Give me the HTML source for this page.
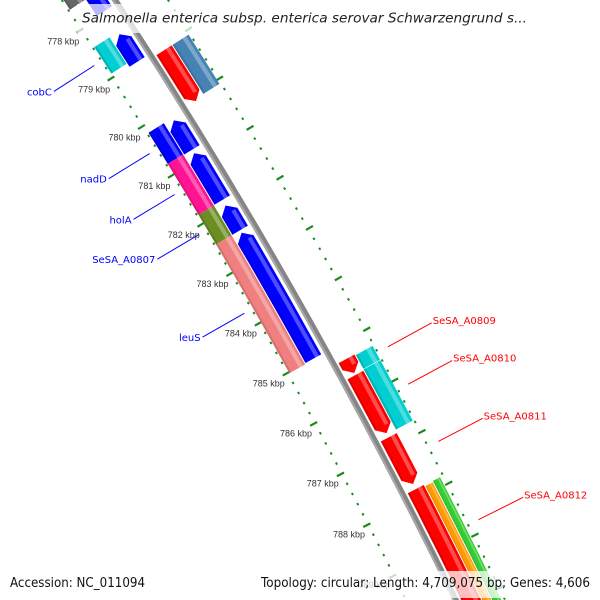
<!DOCTYPE html>
<html><head><meta charset="utf-8"><style>
html,body{margin:0;padding:0;background:#fff;width:600px;height:600px;overflow:hidden;}
svg{display:block;overflow:hidden;}
</style></head><body>
<svg id="map" width="600" height="600" viewBox="0 0 600 600" xmlns="http://www.w3.org/2000/svg">
<rect x="0" y="0" width="600" height="600" fill="#fff"/>
<g id="ticks"></g>
<g id="tickLabels"></g>
<g id="backbone"></g>
<g id="features"></g>
<g id="labels"></g>
<rect x="77" y="4" width="460" height="29" fill="#fff" fill-opacity="0.72"/>
<text x="82" y="22.5" font-family="DejaVu Sans, Liberation Sans, sans-serif" font-style="italic" font-size="13" fill="#222" textLength="445" lengthAdjust="spacingAndGlyphs">Salmonella enterica subsp. enterica serovar Schwarzengrund s...</text>
<rect x="4" y="571" width="148" height="27" fill="#fff" fill-opacity="0.75"/>
<rect x="255" y="571" width="341" height="27" fill="#fff" fill-opacity="0.75"/>
<text x="10" y="587" font-family="DejaVu Sans, Liberation Sans, sans-serif" font-size="13" fill="#111" textLength="135" lengthAdjust="spacingAndGlyphs">Accession: NC_011094</text>
<text x="261" y="587" font-family="DejaVu Sans, Liberation Sans, sans-serif" font-size="13" fill="#111" textLength="329" lengthAdjust="spacingAndGlyphs">Topology: circular; Length: 4,709,075 bp; Genes: 4,606</text>
</svg>
<script>
// ---- data ----
const featNames  = ['gene-a1','gene-a2','gene-a3','gene-a4','gene-a5','gene-a6','gene-b0','cobC','nadD','holA','SeSA_A0807','leuS','gene-c1','gene-c2','gene-c3','gene-c4','gene-c5','gene-d1','SeSA_A0809','SeSA_A0810','SeSA_A0812','gene-d5'];
const featStart  = [776.0, 778.43, 780.20, 780.87, 781.93, 782.48, 776.0, 778.38, 780.15, 780.79, 781.83, 782.43, 779.08, 785.28, 785.60, 786.82, 787.83, 779.08, 785.30, 785.58, 787.86, 787.84];
const featEnd    = [777.95, 779.00, 780.80, 781.82, 782.43, 785.00, 777.60, 778.93, 780.79, 781.83, 782.43, 785.02, 780.12, 785.56, 786.74, 787.73, 791.0, 780.08, 785.57, 786.76, 791.0, 791.0];
const featTrack  = ['A','A','A','A','A','A','B','B','B','B','B','B','C','C','C','C','C','D','D','D','D1','D2'];
const featStrand = [-1,-1,-1,-1,-1,-1,0,0,0,0,0,0,1,1,1,1,1,0,0,0,0,0];
const featColor  = ['#0000ff','#0000ff','#0000ff','#0000ff','#0000ff','#0000ff','#666666','#00ced1','#0000ff','#ff1493','#6b8e23','#f08080','#ff0000','#ff0000','#ff0000','#ff0000','#ff0000','#4682b4','#00ced1','#00ced1','#ff9900','#33cc33'];
const tickKbp    = [776,777,778,779,780,781,782,783,784,785,786,787,788,789,790];
const tickLabels = ['776 kbp','777 kbp','778 kbp','779 kbp','780 kbp','781 kbp','782 kbp','783 kbp','784 kbp','785 kbp','786 kbp','787 kbp','788 kbp','789 kbp','790 kbp'];
const labelText  = ['cobC','nadD','holA','SeSA_A0807','leuS','SeSA_A0809','SeSA_A0810','SeSA_A0811','SeSA_A0812'];
const labelK     = [778.65, 780.47, 781.31, 782.13, 783.72, 785.44, 786.17, 787.28, 788.79];
const labelSide  = ['in','in','in','in','in','out','out','out','out'];

// ---- geometry ----
const CX=-4516, CY=3026, RB=5532, K0=780, TH0=-31.90, DPK=0.5975;
const trackIn  = {A:-24,B:-43,C:5,D:24,D1:24,D2:33};
const trackOut = {A:-6,B:-25,C:23,D:43,D1:32,D2:41};
const NS='http://www.w3.org/2000/svg';
function ang(k){return (TH0+(k-K0)*DPK)*Math.PI/180;}
function P(k,r){const a=ang(k);return [CX+r*Math.cos(a), CY+r*Math.sin(a)];}
function f(p){return p[0].toFixed(2)+' '+p[1].toFixed(2);}
function arcTo(k,r,sweep){return ' A '+r+' '+r+' 0 0 '+sweep+' '+f(P(k,r));}
function band(k1,k2,r1,r2){
  return 'M '+f(P(k1,r1))+arcTo(k2,r1,1)+' L '+f(P(k2,r2))+arcTo(k1,r2,0)+' Z';
}
function mk(tag,parent){const e=document.createElementNS(NS,tag);parent.appendChild(e);return e;}

// ticks
const gT=document.getElementById('ticks');
for(let i=0;i<=75;i++){
  const k=776+i*0.2;
  const major=(i%5===0);
  [[-45.5,-43.5,-50,-42],[43.5,45.5,42,50]].forEach(function(o){
    const a=major?o[2]:o[0], b=major?o[3]:o[1];
    const p1=P(k,RB+a), p2=P(k,RB+b);
    const l=mk('line',gT);
    
    
    l.setAttribute('x1',p1[0]);l.setAttribute('y1',p1[1]);
    l.setAttribute('x2',p2[0]);l.setAttribute('y2',p2[1]);
    l.setAttribute('stroke','#1b8c1b');l.setAttribute('stroke-width',major?2.2:2.4);
  });
}
const gL=document.getElementById('tickLabels');
tickKbp.forEach(function(k,i){
  const p=P(k,RB-66);
  const t=mk('text',gL);
  
  
  t.setAttribute('x',p[0]);t.setAttribute('y',p[1]+3);
  t.setAttribute('text-anchor','middle');
  t.setAttribute('font-family','Liberation Sans, sans-serif');
  t.setAttribute('font-size','9');t.setAttribute('fill','#333');
  t.textContent=tickLabels[i];
});

// backbone
const gB=document.getElementById('backbone');
const bb=mk('path',gB);


bb.setAttribute('d','M '+f(P(774,RB))+arcTo(792,RB,1));
bb.setAttribute('fill','none');bb.setAttribute('stroke','#858585');bb.setAttribute('stroke-width','6');
const bb2=mk('path',gB);


bb2.setAttribute('d','M '+f(P(774,RB-1.8))+arcTo(792,RB-1.8,1));
bb2.setAttribute('fill','none');bb2.setAttribute('stroke','#a8a8a8');bb2.setAttribute('stroke-width','2');

// features
const gF=document.getElementById('features');
featNames.forEach(function(name,i){
  const k1=featStart[i], k2=featEnd[i], tr=featTrack[i], s=featStrand[i];
  const r1=RB+trackIn[tr], r2=RB+trackOut[tr], rm=(r1+r2)/2;
  const a=Math.min(0.14,(k2-k1)*0.5);
  let d, b1=k1, b2=k2;
  if(s===1){
    b2=k2-a;
    d='M '+f(P(k1,r1))+arcTo(b2,r1,1)+' L '+f(P(k2,rm))+' L '+f(P(b2,r2))+arcTo(k1,r2,0)+' Z';
  } else if(s===-1){
    b1=k1+a;
    d='M '+f(P(k1,rm))+' L '+f(P(b1,r1))+arcTo(k2,r1,1)+' L '+f(P(k2,r2))+arcTo(b1,r2,0)+' Z';
  } else {
    d=band(k1,k2,r1,r2);
  }
  const g=mk('g',gF);
  
  
  const p=mk('path',g);
  
  
  p.setAttribute('d',d);p.setAttribute('fill',featColor[i]);
  const w=r2-r1;
  const h=mk('path',g);
  
  
  h.setAttribute('d',band(b1,b2,r1+w*0.62,r1+w*0.85));
  h.setAttribute('fill','#fff');h.setAttribute('fill-opacity','0.3');
  const sh=mk('path',g);
  
  
  sh.setAttribute('d',band(b1,b2,r1,r1+w*0.12));
  sh.setAttribute('fill','#000');sh.setAttribute('fill-opacity','0.12');
});

// feature labels
const gLab=document.getElementById('labels');
labelText.forEach(function(txt,i){
  const k=labelK[i], out=labelSide[i]==='out';
  const p1=out?P(k,RB+56):P(k,RB-53);
  const p2=out?P(k,RB+106):P(k,RB-101);
  const col=out?'#ff0000':'#0000ff';
  const l=mk('line',gLab);
  
  
  l.setAttribute('x1',p1[0]);l.setAttribute('y1',p1[1]);
  l.setAttribute('x2',p2[0]);l.setAttribute('y2',p2[1]);
  l.setAttribute('stroke',col);l.setAttribute('stroke-width','1');
  const t=mk('text',gLab);
  
  
  t.setAttribute('x',out?p2[0]+1:p2[0]-2);
  t.setAttribute('y',p2[1]+(out?1:4));
  t.setAttribute('text-anchor',out?'start':'end');
  t.setAttribute('font-family','DejaVu Sans, Liberation Sans, sans-serif');
  t.setAttribute('font-size','10');t.setAttribute('fill',col);
  t.textContent=txt;
});
</script>
</body></html>
